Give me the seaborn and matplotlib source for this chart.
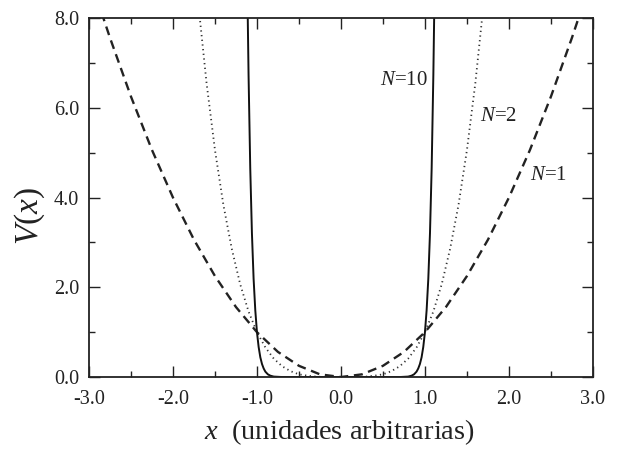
import matplotlib
matplotlib.use("Agg")
import numpy as np
import pandas as pd
import seaborn as sns
import matplotlib.pyplot as plt
from matplotlib.ticker import MultipleLocator, FormatStrFormatter

# values
x_n1 = [-2.85, -2.75, -2.5, -2.25, -2.0, -1.75, -1.5, -1.25, -1.0, -0.75, -0.5, -0.25,
        0.0, 0.25, 0.5, 0.75, 1.0, 1.25, 1.5, 1.75, 2.0, 2.25, 2.5, 2.75, 2.85]
v_n1 = [8.12, 7.56, 6.25, 5.06, 4.0, 3.06, 2.25, 1.56, 1.0, 0.56, 0.25, 0.06,
        0.0, 0.06, 0.25, 0.56, 1.0, 1.56, 2.25, 3.06, 4.0, 5.06, 6.25, 7.56, 8.12]

x_n2 = [-1.7, -1.6, -1.5, -1.4, -1.3, -1.2, -1.1, -1.0, -0.9, -0.8, -0.7, -0.6, -0.5,
        -0.4, -0.3, -0.2, -0.1, 0.0, 0.1, 0.2, 0.3, 0.4, 0.5, 0.6, 0.7, 0.8, 0.9,
        1.0, 1.1, 1.2, 1.3, 1.4, 1.5, 1.6, 1.7]
v_n2 = [8.35, 6.55, 5.06, 3.84, 2.86, 2.07, 1.46, 1.0, 0.66, 0.41, 0.24, 0.13, 0.06,
        0.03, 0.01, 0.0, 0.0, 0.0, 0.0, 0.0, 0.01, 0.03, 0.06, 0.13, 0.24, 0.41, 0.66,
        1.0, 1.46, 2.07, 2.86, 3.84, 5.06, 6.55, 8.35]

x_n10 = [-1.12, -1.11, -1.10, -1.08, -1.06, -1.04, -1.02, -1.0, -0.98, -0.96, -0.94,
         -0.92, -0.9, -0.87, -0.84, -0.8, -0.7, 0.0, 0.7, 0.8, 0.84, 0.87, 0.9, 0.92,
         0.94, 0.96, 0.98, 1.0, 1.02, 1.04, 1.06, 1.08, 1.10, 1.11, 1.12]
v_n10 = [9.65, 8.06, 6.73, 4.66, 3.21, 2.19, 1.49, 1.0, 0.67, 0.44, 0.29,
         0.19, 0.12, 0.06, 0.03, 0.01, 0.0, 0.0, 0.0, 0.01, 0.03, 0.06, 0.12, 0.19,
         0.29, 0.44, 0.67, 1.0, 1.49, 2.19, 3.21, 4.66, 6.73, 8.06, 9.65]

sns.set_style("ticks")
plt.rcParams["font.family"] = ["Liberation Serif", "DejaVu Serif"]
plt.rcParams["mathtext.fontset"] = "custom"
plt.rcParams["mathtext.rm"] = "Liberation Serif"
plt.rcParams["mathtext.it"] = "Liberation Serif:italic"

fig = plt.figure(figsize=(6.17, 4.51), dpi=100)
ax = fig.add_axes([0.1442, 0.164, 0.8168, 0.796])

df1 = pd.DataFrame({"x": x_n1, "V": v_n1})
df2 = pd.DataFrame({"x": x_n2, "V": v_n2})
df10 = pd.DataFrame({"x": x_n10, "V": v_n10})

sns.lineplot(data=df1, x="x", y="V", ax=ax, color="#222222", lw=1.7,
             linestyle=(0, (3.8, 2.4)), sort=False)
sns.lineplot(data=df2, x="x", y="V", ax=ax, color="#333333", lw=1.3,
             linestyle=(0, (0.7, 1.9)), sort=False)
sns.lineplot(data=df10, x="x", y="V", ax=ax, color="#111111", lw=1.4, sort=False)

ax.set_xlim(-3, 3)
ax.set_ylim(0, 8)
ax.xaxis.set_major_locator(MultipleLocator(1.0))
ax.xaxis.set_minor_locator(MultipleLocator(0.5))
ax.yaxis.set_major_locator(MultipleLocator(2.0))
ax.yaxis.set_minor_locator(MultipleLocator(1.0))
ax.xaxis.set_major_formatter(FormatStrFormatter("%.1f"))
ax.yaxis.set_major_formatter(FormatStrFormatter("%.1f"))
ax.tick_params(which="both", direction="in", top=True, right=True, width=1.0,
               color="#222222", labelsize=14.5, labelcolor="#222222")
ax.tick_params(which="major", length=8)
ax.tick_params(which="minor", length=4.5)
ax.tick_params(axis="x", which="major", pad=9)
ax.tick_params(axis="y", which="major", pad=7)
for s in ax.spines.values():
    s.set_linewidth(1.3)
    s.set_color("#222222")

ax.set_xlabel("$x$  (unidades arbitrarias)", fontsize=20.5, color="#222222")
ax.set_ylabel("$V(x)$", fontsize=24, color="#222222")
ax.xaxis.set_label_coords(0.497, -0.112)
ax.yaxis.set_label_coords(-0.083, 0.448)

ax.text(1.04, 6.6, "$N$=10", fontsize=15, ha="right", va="center", color="#222222")
ax.text(1.65, 5.8, "$N$=2", fontsize=15, ha="left", va="center", color="#222222")
ax.text(2.25, 4.5, "$N$=1", fontsize=15, ha="left", va="center", color="#222222")

fig.savefig("out.png", dpi=100)
